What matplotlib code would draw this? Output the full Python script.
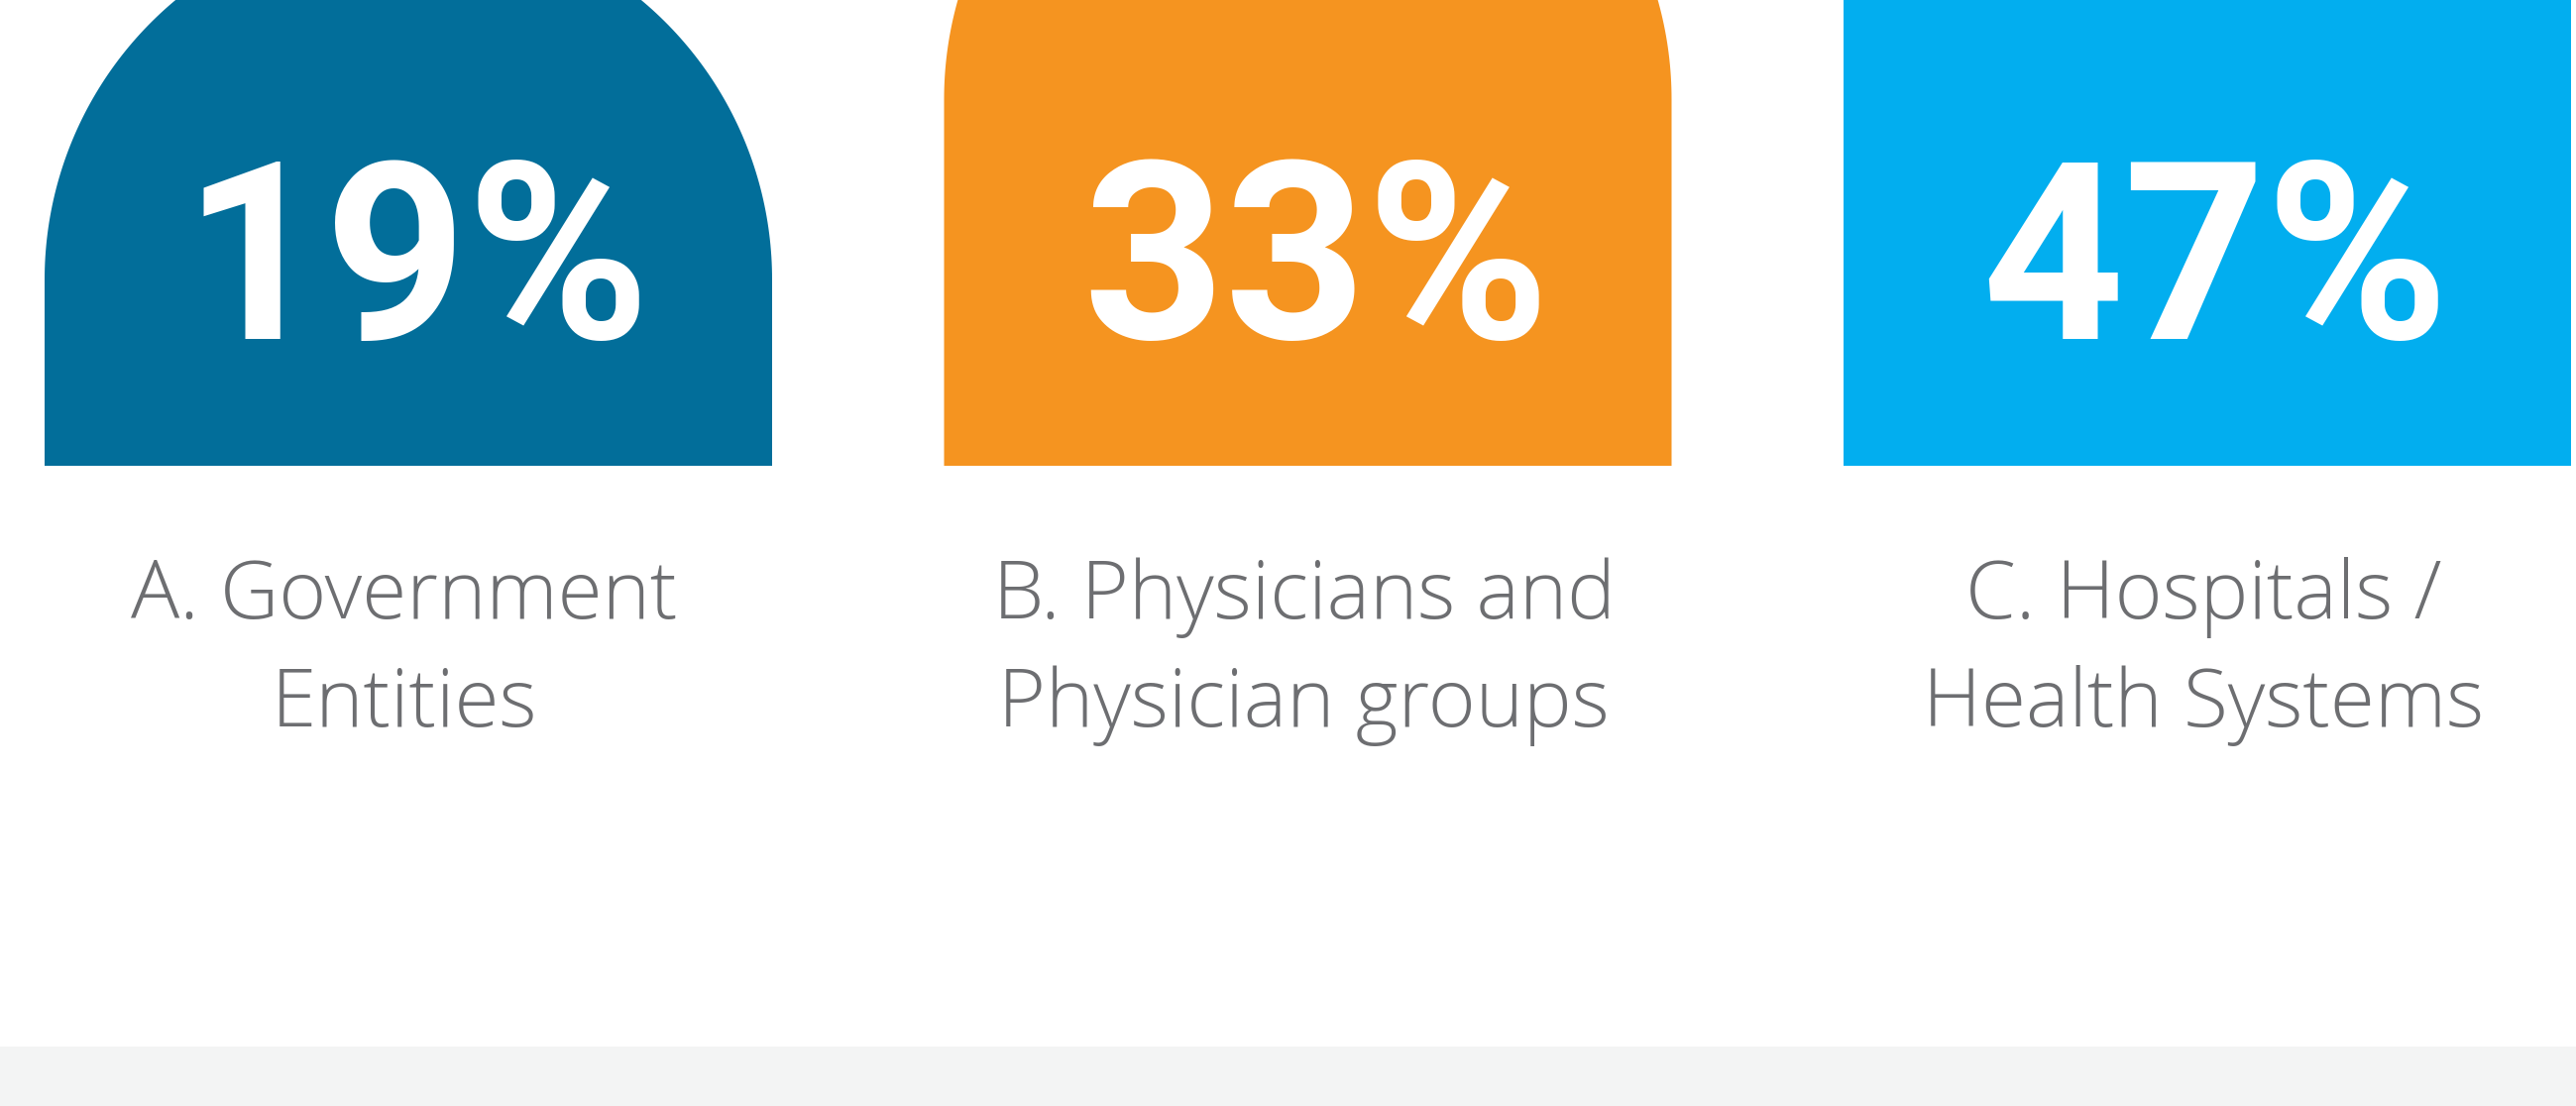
import numpy as np
import matplotlib
matplotlib.use("Agg")
import matplotlib.pyplot as plt
from matplotlib.patches import Polygon, Rectangle

# share of respondents per stakeholder group
categories = ["A. Government\nEntities",
              "B. Physicians and\nPhysician groups",
              "C. Hospitals /\nHealth Systems"]
values = [19, 33, 47]
value_labels = ["19%", "33%", "47%"]
colors = ["#026e9a", "#f59420", "#02aeef"]

W, H = 2599, 1116

fig = plt.figure(figsize=(W / 100, H / 100), dpi=100)
ax = fig.add_axes([0, 0, 1, 1])
ax.set_xlim(0, W)
ax.set_ylim(H, 0)   # pixel-like coords, y grows downward
ax.axis("off")

# layout
first_center = 412
spacing = 907.5
bar_w = 734
bar_bottom = 470
floor_px = 308      # height of a 0% bar
px_per_pct = 13     # extra height per percent
radius = bar_w / 2


def rounded_bar(cx, height, color):
    left, right = cx - bar_w / 2, cx + bar_w / 2
    top = bar_bottom - height
    arc_cy = top + radius
    t = np.linspace(0, np.pi, 200)
    arc = np.column_stack([cx + radius * np.cos(t), arc_cy - radius * np.sin(t)])
    pts = np.vstack([[left, bar_bottom], [right, bar_bottom], [right, arc_cy],
                     arc, [left, arc_cy]])
    ax.add_patch(Polygon(pts, closed=True, facecolor=color, edgecolor="none"))


for i, (cat, val, lab, col) in enumerate(zip(categories, values, value_labels, colors)):
    cx = first_center + spacing * i
    rounded_bar(cx, floor_px + px_per_pct * val, col)

    ax.text(cx + 8, 342, lab, color="white", fontsize=180, fontweight="bold",
            family="Roboto", ha="center", va="baseline")

    for j, line in enumerate(cat.split("\n")):
        ax.text(cx - 4, 624 + 109 * j, line, color="#6d6e71", fontsize=59,
                fontweight="light", family="Open Sans", ha="center", va="baseline")

# light footer band
ax.add_patch(Rectangle((0, 1056), W, H - 1056, facecolor="#f3f4f4", edgecolor="none"))

fig.savefig("out.png", dpi=100, facecolor="white")
